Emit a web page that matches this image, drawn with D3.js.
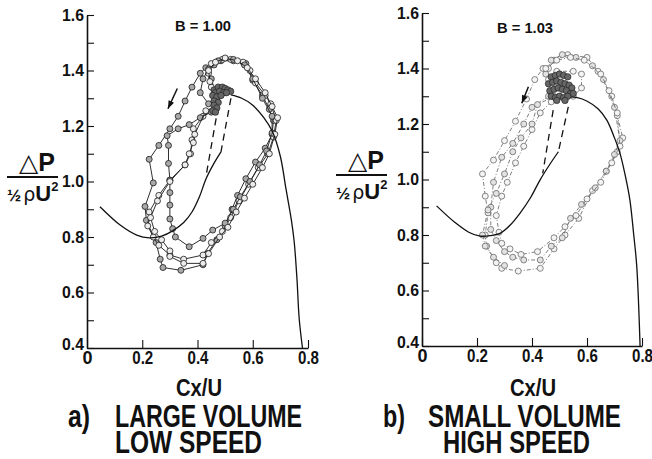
<!DOCTYPE html>
<html>
<head>
<meta charset="utf-8">
<script src="https://cdn.jsdelivr.net/npm/d3@7"></script>
<style>
  body { margin: 0; background: #fff; }
  svg text { font-family: "Liberation Sans", Arial, sans-serif; font-weight: bold; fill: #111; }
</style>
</head>
<body>
<svg id="chart" width="652" height="459"></svg>
<script>
// axis ticks
var xTicks = [0, 0.2, 0.4, 0.6, 0.8];
var yTicks = [0.4, 0.5, 0.6, 0.7, 0.8, 0.9, 1.0, 1.1, 1.2, 1.3, 1.4, 1.5, 1.6];
var yLabels = [0.4, 0.6, 0.8, 1.0, 1.2, 1.4, 1.6];

// compressor characteristic (Cx/U, dP/(rho U^2 /2))
var charLeftA = [[0.047, 0.909], [0.12, 0.843], [0.18, 0.807], [0.225, 0.797], [0.27, 0.803], [0.31, 0.822],
  [0.35, 0.852], [0.38, 0.89], [0.407, 0.945], [0.431, 1.01], [0.461, 1.068], [0.485, 1.107]];
var charRightA = [[0.521, 1.312], [0.56, 1.30], [0.599, 1.276], [0.64, 1.23], [0.671, 1.18], [0.70, 1.09],
  [0.72, 0.975], [0.74, 0.86], [0.75, 0.783], [0.76, 0.65], [0.768, 0.507], [0.78, 0.40]];
var dashA = [[[0.475, 1.27], [0.431, 1.02]], [[0.521, 1.30], [0.485, 1.107]]];

var charLeftB = [[0.053, 0.905], [0.12, 0.845], [0.17, 0.81], [0.211, 0.796], [0.25, 0.798], [0.284, 0.806],
  [0.32, 0.835], [0.356, 0.878], [0.395, 0.935], [0.429, 0.998], [0.465, 1.055], [0.496, 1.10]];
var charRightB = [[0.532, 1.298], [0.565, 1.295], [0.599, 1.283], [0.64, 1.255], [0.672, 1.214], [0.70, 1.15],
  [0.72, 1.094], [0.74, 1.01], [0.756, 0.926], [0.77, 0.80], [0.781, 0.686], [0.793, 0.40]];
var dashB = [[[0.477, 1.25], [0.439, 1.022]], [[0.532, 1.262], [0.496, 1.10]]];

// surge loops, panel a (B = 1.00)
var loopsA = [
  [[0.47, 1.30], [0.45, 1.37], [0.43, 1.41], [0.41, 1.39], [0.38, 1.34], [0.355, 1.29], [0.33, 1.235], [0.30, 1.19],
   [0.26, 1.13], [0.225, 1.08], [0.24, 0.995], [0.21, 0.91], [0.215, 0.86], [0.25, 0.78], [0.265, 0.72], [0.275, 0.69],
   [0.34, 0.68], [0.42, 0.70], [0.435, 0.74], [0.47, 0.79], [0.50, 0.84], [0.525, 0.90], [0.545, 0.95], [0.575, 1.01],
   [0.61, 1.07], [0.645, 1.12], [0.67, 1.17], [0.675, 1.22], [0.66, 1.26], [0.635, 1.31], [0.60, 1.365], [0.575, 1.425],
   [0.53, 1.435], [0.485, 1.435], [0.46, 1.42]],
  [[0.46, 1.26], [0.42, 1.235], [0.385, 1.19], [0.38, 1.15], [0.375, 1.10], [0.355, 1.06], [0.30, 1.005], [0.26, 0.95],
   [0.225, 0.89], [0.22, 0.84], [0.24, 0.80], [0.26, 0.77], [0.30, 0.735], [0.35, 0.72], [0.42, 0.735], [0.45, 0.78],
   [0.49, 0.82], [0.52, 0.87], [0.55, 0.93], [0.585, 0.99], [0.62, 1.05], [0.655, 1.10], [0.675, 1.16], [0.685, 1.22],
   [0.665, 1.28], [0.645, 1.31], [0.61, 1.355], [0.59, 1.40], [0.565, 1.43], [0.52, 1.44], [0.49, 1.44], [0.45, 1.425],
   [0.44, 1.39], [0.45, 1.34]],
  [[0.45, 1.25], [0.41, 1.23], [0.37, 1.205], [0.33, 1.19], [0.29, 1.165], [0.295, 1.13], [0.295, 1.065], [0.30, 1.005],
   [0.30, 0.96], [0.30, 0.915], [0.30, 0.865], [0.31, 0.83], [0.32, 0.80], [0.37, 0.765], [0.42, 0.795], [0.455, 0.825],
   [0.50, 0.85], [0.53, 0.90], [0.555, 0.945], [0.59, 1.00], [0.625, 1.06], [0.65, 1.11], [0.67, 1.175], [0.67, 1.235],
   [0.635, 1.30], [0.60, 1.37], [0.57, 1.42], [0.53, 1.44], [0.475, 1.435], [0.44, 1.405], [0.42, 1.37], [0.41, 1.32],
   [0.44, 1.28]],
  [[0.465, 1.27], [0.43, 1.255], [0.39, 1.17], [0.385, 1.14], [0.37, 1.10], [0.355, 1.06], [0.30, 1.00], [0.255, 0.93],
   [0.23, 0.87], [0.245, 0.82], [0.27, 0.79], [0.30, 0.75], [0.30, 0.73], [0.35, 0.705], [0.42, 0.705], [0.44, 0.74],
   [0.48, 0.80], [0.51, 0.835], [0.54, 0.89], [0.57, 0.94], [0.60, 0.99], [0.635, 1.05], [0.66, 1.10], [0.68, 1.17],
   [0.69, 1.23], [0.67, 1.27], [0.645, 1.32], [0.61, 1.37], [0.58, 1.41], [0.545, 1.435], [0.50, 1.445], [0.465, 1.43],
   [0.44, 1.40], [0.445, 1.36]]
];
var blobA = [[0.46, 1.33], [0.475, 1.34], [0.49, 1.34], [0.50, 1.335], [0.51, 1.33], [0.52, 1.325], [0.465, 1.32],
  [0.48, 1.325], [0.495, 1.32], [0.455, 1.31], [0.47, 1.305], [0.485, 1.31], [0.46, 1.29], [0.475, 1.285],
  [0.46, 1.275], [0.47, 1.265], [0.455, 1.255], [0.465, 1.25], [0.505, 1.32]];
var arrowA = [[0.327, 1.335], [0.293, 1.262]];

// surge loops, panel b (B = 1.03)
var loopsB = [
  [[0.47, 1.36], [0.44, 1.40], [0.41, 1.36], [0.38, 1.29], [0.34, 1.21], [0.30, 1.14], [0.26, 1.07], [0.22, 1.02],
   [0.23, 0.94], [0.24, 0.88], [0.23, 0.80], [0.235, 0.76], [0.27, 0.70], [0.29, 0.68], [0.35, 0.67], [0.43, 0.68],
   [0.48, 0.75], [0.52, 0.80], [0.57, 0.86], [0.62, 0.96], [0.67, 1.03], [0.71, 1.10], [0.73, 1.15], [0.71, 1.23],
   [0.69, 1.30], [0.64, 1.39], [0.60, 1.44], [0.53, 1.45], [0.48, 1.43], [0.46, 1.40]],
  [[0.46, 1.30], [0.40, 1.26], [0.37, 1.20], [0.33, 1.13], [0.29, 1.08], [0.26, 0.99], [0.25, 0.90], [0.25, 0.82],
   [0.27, 0.78], [0.30, 0.74], [0.33, 0.72], [0.37, 0.71], [0.43, 0.71], [0.47, 0.76], [0.51, 0.79], [0.54, 0.86],
   [0.58, 0.91], [0.63, 0.97], [0.67, 1.03], [0.70, 1.09], [0.72, 1.14], [0.70, 1.26], [0.66, 1.36], [0.62, 1.41],
   [0.56, 1.44], [0.51, 1.45], [0.47, 1.43], [0.45, 1.38]],
  [[0.47, 1.28], [0.43, 1.24], [0.40, 1.18], [0.37, 1.12], [0.34, 1.06], [0.31, 0.99], [0.29, 0.94], [0.27, 0.87],
   [0.28, 0.81], [0.29, 0.77], [0.32, 0.75], [0.36, 0.73], [0.42, 0.74], [0.48, 0.79], [0.52, 0.83], [0.56, 0.87],
   [0.60, 0.93], [0.65, 0.99], [0.69, 1.06], [0.72, 1.12], [0.71, 1.24], [0.68, 1.32], [0.65, 1.38], [0.59, 1.43],
   [0.54, 1.44], [0.49, 1.43], [0.45, 1.40]],
  [[0.48, 1.30], [0.42, 1.27], [0.40, 1.20], [0.36, 1.15], [0.33, 1.10], [0.30, 1.02], [0.27, 0.95], [0.24, 0.89],
   [0.22, 0.80], [0.23, 0.76], [0.26, 0.72], [0.30, 0.69]],
  [[0.46, 1.36], [0.49, 1.39], [0.55, 1.39], [0.58, 1.38], [0.58, 1.33], [0.55, 1.30]]
];
var blobB = [[0.47, 1.37], [0.485, 1.375], [0.50, 1.38], [0.515, 1.375], [0.53, 1.37], [0.46, 1.345], [0.475, 1.35],
  [0.49, 1.355], [0.505, 1.35], [0.52, 1.345], [0.535, 1.34], [0.545, 1.33], [0.465, 1.32], [0.48, 1.325],
  [0.495, 1.33], [0.51, 1.325], [0.525, 1.32], [0.54, 1.31], [0.47, 1.30], [0.485, 1.295], [0.50, 1.30],
  [0.515, 1.295], [0.53, 1.30], [0.55, 1.31], [0.49, 1.285], [0.52, 1.285]];
var arrowB = [[0.387, 1.334], [0.363, 1.275]];

var panels = [
  { x0: 87, x1: 308, y0: 348, y1: 15, charL: charLeftA, charR: charRightA, dash: dashA, loops: loopsA,
    blob: blobA, arrow: arrowA, label: "B = 1.00", labelX: 175, labelY: 31,
    titleX: 7, barY: 177, cxX: 199, tag: "a)", tagX: 68, line1: "LARGE VOLUME", l1x: 115, l1w: 187,
    line2: "LOW SPEED", l2x: 115, l2w: 147, lineColor: "#1a1a1a", dotFill: ["#a8a8a8", "#ececec"], dotStroke: "#1a1a1a", lineDash: null },
  { x0: 422, x1: 642, y0: 346, y1: 13, charL: charLeftB, charR: charRightB, dash: dashB, loops: loopsB,
    blob: blobB, arrow: arrowB, label: "B = 1.03", labelX: 497, labelY: 33,
    titleX: 336, barY: 175, cxX: 533, tag: "b)", tagX: 383, line1: "SMALL VOLUME", l1x: 428, l1w: 193,
    line2: "HIGH SPEED", l2x: 443, l2w: 147, lineColor: "#707070", dotFill: ["#f4f4f4", "#e2e2e2"], dotStroke: "#6a6a6a", lineDash: "4,2,1,2" }
];

var svg = d3.select("#chart");

function fmt(d) { return d === 0 ? "0" : d3.format(".1f")(d); }

function drawPanel(p) {
  var g = svg.append("g");
  var x = d3.scaleLinear().domain([xTicks[0], xTicks[xTicks.length - 1]]).range([p.x0, p.x1]);
  var y = d3.scaleLinear().domain([yTicks[0], yTicks[yTicks.length - 1]]).range([p.y0, p.y1]);

  // axes, ticks pointing inwards
  var xa = g.append("g").attr("transform", "translate(0," + p.y0 + ")")
    .call(d3.axisBottom(x).tickValues(xTicks).tickSize(-8).tickSizeOuter(0).tickPadding(3).tickFormat(fmt));
  var ya = g.append("g").attr("transform", "translate(" + p.x0 + ",0)")
    .call(d3.axisLeft(y).tickValues(yTicks).tickSize(-7).tickSizeOuter(0).tickPadding(3)
      .tickFormat(function (d) { return yLabels.some(function (v) { return Math.abs(v - d) < 1e-9; }) ? fmt(d) : ""; }));
  [xa, ya].forEach(function (a) {
    a.attr("font-family", null).attr("font-size", null);
    a.select(".domain").attr("stroke", "#111").attr("stroke-width", 1.6);
    a.selectAll(".tick line").attr("stroke", "#111").attr("stroke-width", 1.1);
  });
  xa.selectAll("text").style("font-size", "18px")
    .filter(function (d) { return d !== 0; }).attr("textLength", 21).attr("lengthAdjust", "spacingAndGlyphs");
  ya.selectAll("text").style("font-size", "17px")
    .filter(function () { return this.textContent.length > 0; }).attr("textLength", 22).attr("lengthAdjust", "spacingAndGlyphs");
  // the corner label sits a little above the x axis labels
  ya.selectAll("text").filter(function (d) { return d === yTicks[0]; }).attr("dy", "0.1em");

  var line = d3.line().x(function (d) { return x(d[0]); }).y(function (d) { return y(d[1]); });
  var smooth = d3.line().curve(d3.curveCatmullRom).x(function (d) { return x(d[0]); }).y(function (d) { return y(d[1]); });

  // surge loops
  p.loops.forEach(function (lp, i) {
    g.append("path").datum(lp).attr("d", line).attr("fill", "none")
      .attr("stroke", p.lineColor).attr("stroke-width", 0.9)
      .attr("stroke-dasharray", p.lineDash);
    g.selectAll(null).data(lp).join("circle")
      .attr("cx", function (d) { return x(d[0]); }).attr("cy", function (d) { return y(d[1]); })
      .attr("r", 3).attr("fill", p.dotFill[i % 2]).attr("stroke", p.dotStroke).attr("stroke-width", 0.8);
  });

  // characteristic
  [p.charL, p.charR].forEach(function (c) {
    g.append("path").datum(c).attr("d", smooth).attr("fill", "none").attr("stroke", "#111").attr("stroke-width", 1.3);
  });
  p.dash.forEach(function (c) {
    g.append("path").datum(c).attr("d", line).attr("fill", "none").attr("stroke", "#111")
      .attr("stroke-width", 1.3).attr("stroke-dasharray", "7,5");
  });

  // limit-cycle cluster near the peak
  g.selectAll(null).data(p.blob).join("circle")
    .attr("cx", function (d) { return x(d[0]); }).attr("cy", function (d) { return y(d[1]); })
    .attr("r", 3.2).attr("fill", "#666").attr("stroke", "#222").attr("stroke-width", 0.7);

  // direction arrow
  var a0 = [x(p.arrow[0][0]), y(p.arrow[0][1])], a1 = [x(p.arrow[1][0]), y(p.arrow[1][1])];
  var ang = Math.atan2(a1[1] - a0[1], a1[0] - a0[0]);
  g.append("line").attr("x1", a0[0]).attr("y1", a0[1]).attr("x2", a1[0]).attr("y2", a1[1])
    .attr("stroke", "#111").attr("stroke-width", 1.5);
  var hl = 8, hw = 3;
  g.append("path").attr("fill", "#111").attr("d", "M" + a1[0] + "," + a1[1] +
    "L" + (a1[0] - hl * Math.cos(ang) + hw * Math.sin(ang)) + "," + (a1[1] - hl * Math.sin(ang) - hw * Math.cos(ang)) +
    "L" + (a1[0] - hl * Math.cos(ang) - hw * Math.sin(ang)) + "," + (a1[1] - hl * Math.sin(ang) + hw * Math.cos(ang)) + "Z");

  // texts
  g.append("text").attr("x", p.labelX).attr("y", p.labelY).style("font-size", "15px")
    .attr("textLength", 56).attr("lengthAdjust", "spacingAndGlyphs").text(p.label);

  var t = g.append("g").attr("transform", "translate(" + p.titleX + ",0)");
  var num = t.append("text").attr("x", 12).attr("y", p.barY - 6).style("font-size", "25px");
  num.append("tspan").style("font-family", "DejaVu Sans").style("font-weight", "normal").text("△");
  num.append("tspan").text("P");
  t.append("line").attr("x1", 0).attr("x2", 51).attr("y1", p.barY).attr("y2", p.barY)
    .attr("stroke", "#111").attr("stroke-width", 1.8);
  var den = t.append("text").attr("x", 0).attr("y", p.barY + 24).style("font-size", "22px");
  den.append("tspan").style("font-size", "17px").text("½");
  den.append("tspan").style("font-family", "DejaVu Sans").style("font-weight", "normal").style("font-size", "19px").attr("dx", 2).text("ρ");
  den.append("tspan").text("U");
  den.append("tspan").attr("dy", -10).style("font-size", "13px").text("2");

  g.append("text").attr("x", p.cxX).attr("y", 396).attr("text-anchor", "middle")
    .style("font-size", "23px").attr("textLength", 46).attr("lengthAdjust", "spacingAndGlyphs").text("Cx/U");
  g.append("text").attr("x", p.tagX).attr("y", 427).style("font-size", "31px")
    .attr("textLength", 22).attr("lengthAdjust", "spacingAndGlyphs").text(p.tag);
  g.append("text").attr("x", p.l1x).attr("y", 427).style("font-size", "31px")
    .attr("textLength", p.l1w).attr("lengthAdjust", "spacingAndGlyphs").text(p.line1);
  g.append("text").attr("x", p.l2x).attr("y", 453).style("font-size", "31px")
    .attr("textLength", p.l2w).attr("lengthAdjust", "spacingAndGlyphs").text(p.line2);
}

panels.forEach(drawPanel);
</script>
</body>
</html>
